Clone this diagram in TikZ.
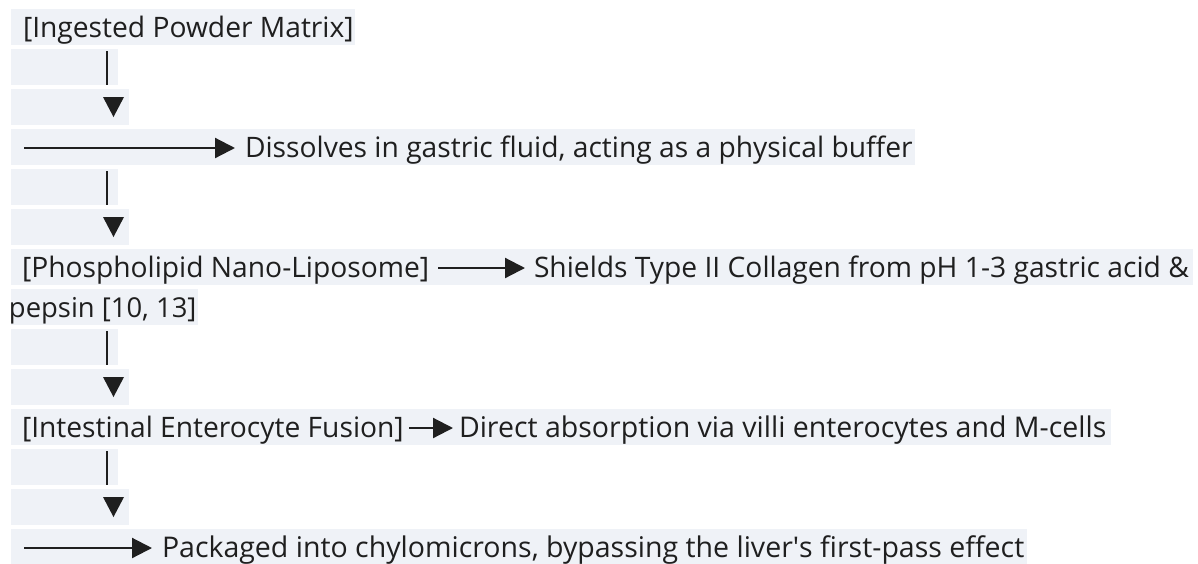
\documentclass[tikz,border=0pt]{standalone}
\usepackage{fontspec}
\setmainfont{Open Sans}
\usetikzlibrary{arrows.meta}
\definecolor{hl}{RGB}{239,242,247}
\definecolor{ink}{RGB}{31,31,31}
\newcommand{\diagfont}{\fontsize{28.2}{33}\selectfont}
\newcommand{\diagfontn}{\fontsize{27.4}{33}\selectfont}
\newcommand{\diagfontw}{\fontsize{28.5}{33}\selectfont}
\tikzset{
  hlbox/.style={fill=hl},
  txt/.style={anchor=base west, inner sep=0pt, outer sep=0pt, font=\diagfont, text=ink},
  txtn/.style={txt, font=\diagfontn},
  txtw/.style={txt, font=\diagfontw},
  vbar/.style={draw=ink, line width=2.2pt},
  harrow/.style={draw=ink, line width=2.2pt, -{Triangle[length=20pt,width=20pt]}},
  downtri/.style={fill=ink}
}
\begin{document}
\begin{tikzpicture}[x=1pt,y=-1pt]
\useasboundingbox (0,0) rectangle (1198,563);
% line highlights
\fill[hlbox] (11,9) rectangle (355,45);
\fill[hlbox] (11,49) rectangle (118,85);
\fill[hlbox] (11,89) rectangle (129,125);
\fill[hlbox] (11,129) rectangle (915,165);
\fill[hlbox] (11,169) rectangle (118,205);
\fill[hlbox] (11,209) rectangle (129,245);
\fill[hlbox] (11,249) rectangle (1193,285);
\fill[hlbox] (11,289) rectangle (198,325);
\fill[hlbox] (11,329) rectangle (118,365);
\fill[hlbox] (11,369) rectangle (129,405);
\fill[hlbox] (11,409) rectangle (1111,445);
\fill[hlbox] (11,449) rectangle (118,485);
\fill[hlbox] (11,489) rectangle (129,525);
\fill[hlbox] (11,529) rectangle (1027,565);
% text nodes
\node[txt] (n1) at (23,37) {[Ingested Powder Matrix]};
\node[txt] (d1) at (245,157) {Dissolves in gastric fluid, acting as a physical buffer};
\node[txt] (n2) at (22,277) {[Phospholipid Nano-Liposome]};
\node[txt] (s2) at (534,277) {Shields Type II Collagen from pH 1-3 gastric acid \&};
\node[txtn] (s2b) at (9,317) {pepsin [10, 13]};
\node[txt] (n3) at (22,437) {[Intestinal Enterocyte Fusion]};
\node[txtw] (d3) at (459,437) {Direct absorption via villi enterocytes and M-cells};
\node[txtw] (p4) at (162,557) {Packaged into chylomicrons, bypassing the liver\textquotesingle s first-pass effect};
% connector end points
\coordinate (h1s) at (24,148);   \coordinate (h1e) at (235,148);
\coordinate (h2s) at (438,268);  \coordinate (h2e) at (525,268);
\coordinate (h3s) at (409,428);  \coordinate (h3e) at (453,428);
\coordinate (h4s) at (24,548);   \coordinate (h4e) at (152,548);
% horizontal arrows
\draw[harrow] (h1s) -- (h1e);
\draw[harrow] (h2s) -- (h2e);
\draw[harrow] (h3s) -- (h3e);
\draw[harrow] (h4s) -- (h4e);
% vertical connectors: bar + down triangle
\foreach \t in {49,169,329,449}{
  \draw[vbar] (107,\t+2) -- (107,\t+36);
  \fill[downtri] (103,\t+48) -- (124,\t+48) -- (113.5,\t+68) -- cycle;
}
\end{tikzpicture}
\end{document}
